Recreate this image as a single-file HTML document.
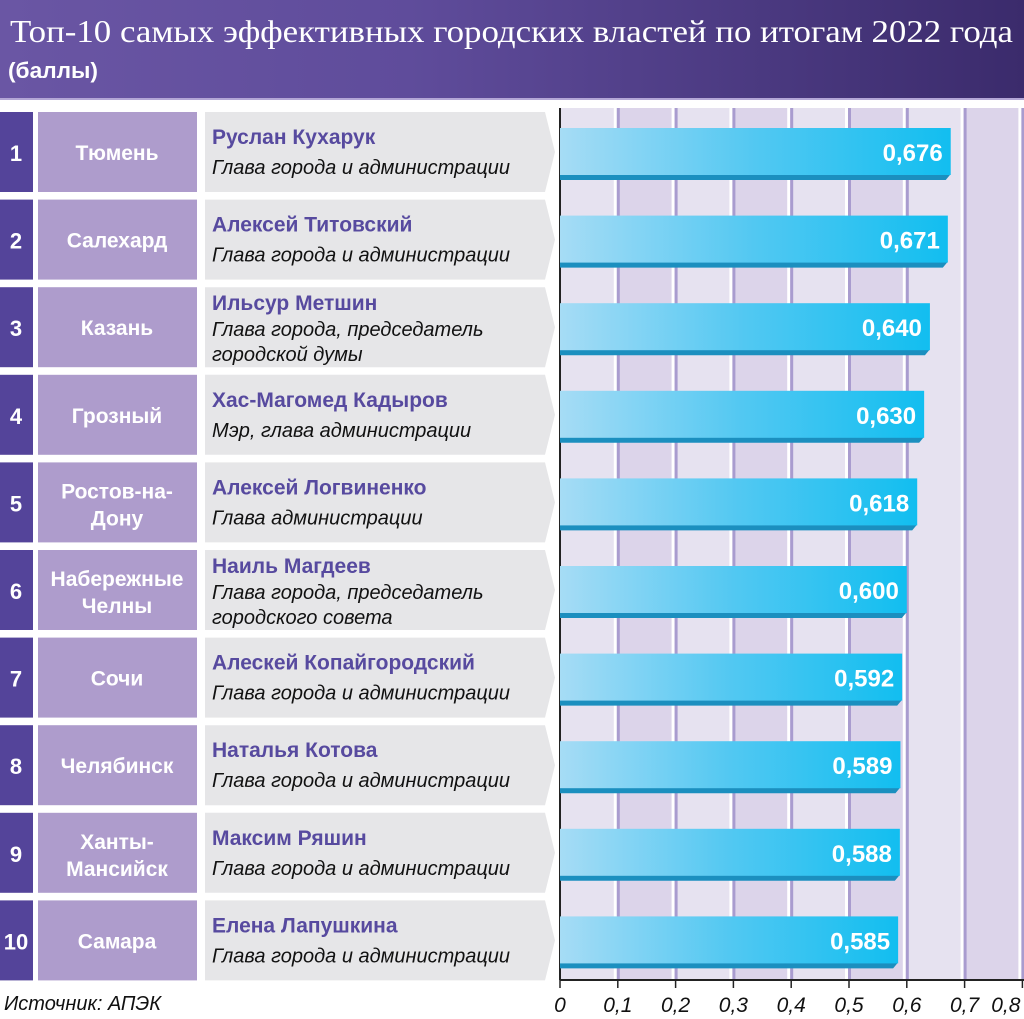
<!DOCTYPE html>
<html><head><meta charset="utf-8"><style>
html,body{margin:0;padding:0;background:#fff;}
svg{display:block;font-family:"Liberation Sans","DejaVu Sans",sans-serif;}
</style></head><body>
<svg id="c" width="1024" height="1019" viewBox="0 0 1024 1019" xmlns="http://www.w3.org/2000/svg">
<defs>
<linearGradient id="hdr" x1="0" x2="1" y1="0" y2="0"><stop offset="0" stop-color="#6a56a4"/><stop offset="0.4" stop-color="#5f4c9b"/><stop offset="1" stop-color="#3b2b6c"/></linearGradient>
<linearGradient id="bar" x1="0" x2="1" y1="0" y2="0"><stop offset="0" stop-color="#a6dcf5"/><stop offset="0.5" stop-color="#52c8f2"/><stop offset="1" stop-color="#12bef0"/></linearGradient>
</defs>
<rect x="0" y="0" width="1024" height="98" fill="url(#hdr)"/>
<rect x="0" y="98" width="1024" height="2" fill="#b3a6d6"/>
<text x="10" y="42" fill="#fff" font-family="Liberation Serif,serif" font-size="32" textLength="1003" lengthAdjust="spacingAndGlyphs">Топ-10 самых эффективных городских властей по итогам 2022 года</text>
<text x="8" y="78" fill="#fff" font-size="22" font-weight="bold" textLength="90" lengthAdjust="spacingAndGlyphs">(баллы)</text>
<g id="plot"></g>
<text x="4" y="1010" font-size="20" font-style="italic" fill="#111">Источник: АПЭК</text>
</svg>
<script>
const ranks=["1","2","3","4","5","6","7","8","9","10"];
const cities=[["Тюмень"],["Салехард"],["Казань"],["Грозный"],["Ростов-на-","Дону"],["Набережные","Челны"],["Сочи"],["Челябинск"],["Ханты-","Мансийск"],["Самара"]];
const names=["Руслан Кухарук","Алексей Титовский","Ильсур Метшин","Хас-Магомед Кадыров","Алексей Логвиненко","Наиль Магдеев","Алескей Копайгородский","Наталья Котова","Максим Ряшин","Елена Лапушкина"];
const roles=[["Глава города и администрации"],["Глава города и администрации"],["Глава города, председатель","городской думы"],["Мэр, глава администрации"],["Глава администрации"],["Глава города, председатель","городского совета"],["Глава города и администрации"],["Глава города и администрации"],["Глава города и администрации"],["Глава города и администрации"]];
const values=[0.676,0.671,0.640,0.630,0.618,0.600,0.592,0.589,0.588,0.585];
const ticks=[0,0.1,0.2,0.3,0.4,0.5,0.6,0.7,0.8];
const tickLabels=["0","0,1","0,2","0,3","0,4","0,5","0,6","0,7","0,8"];

const NS="http://www.w3.org/2000/svg";
const g=document.getElementById('plot');
const X0=560,XS=578,TOP=112,PITCH=87.6,AXY=980;
const xs=v=>X0+v*XS;
const ry=i=>TOP+i*PITCH;
function mk(t,a,p){const e=document.createElementNS(NS,t);for(const k in a)e.setAttribute(k,a[k]);(p||g).appendChild(e);return e;}

// bands
for(let i=0;i<ticks.length-1;i++){
  const b=mk('rect',{x:xs(ticks[i]),y:108,width:xs(ticks[i+1])-xs(ticks[i]),height:AXY-108,fill:i%2?'#dcd4ea':'#e6e2f0'});
  
  
}
mk('rect',{x:xs(0.8),y:108,width:1024-xs(0.8),height:AXY-108,fill:'#dcd4ea'});
for(let i=1;i<ticks.length;i++){
  const x=xs(ticks[i]);
  mk('rect',{x:x-4,y:108,width:3,height:AXY-108,fill:'#fff'});
  const l=mk('rect',{x:x-1,y:108,width:3,height:AXY-108,fill:'#a99ccf'});
  
  
}
// axis
const ax=mk('line',{x1:X0,y1:AXY,x2:1024,y2:AXY,stroke:'#222','stroke-width':2});


mk('line',{x1:X0,y1:108,x2:X0,y2:AXY,stroke:'#222','stroke-width':2});
ticks.forEach((t,i)=>{
  const x=xs(t);
  mk('line',{x1:x,y1:AXY,x2:x,y2:AXY+8,stroke:'#222','stroke-width':1.5});
  const tx=mk('text',{x:i==8?x-2:x,y:1012,'font-size':21,'font-style':'italic','text-anchor':i==8?'end':'middle',fill:'#111'});
  tx.textContent=tickLabels[i];
  
  
});

values.forEach((v,i)=>{
  const y=ry(i);
  const n=mk('rect',{x:0,y:y,width:33,height:80,fill:'#54449a'});
  
  
  const nt=mk('text',{x:16,y:y+49,'font-size':22,'font-weight':'bold',fill:'#fff','text-anchor':'middle'});
  nt.textContent=ranks[i];
  
  
  const c=mk('rect',{x:38,y:y,width:159,height:80,fill:'#ae9ccc'});
  
  
  const cl=cities[i];
  cl.forEach((s,j)=>{
    const ct=mk('text',{x:117,y:y+(cl.length==1?48:36+j*27),'font-size':21,'font-weight':'bold',fill:'#fff','text-anchor':'middle'});
    ct.textContent=s;
    
    
  });
  const p=mk('path',{d:`M205 ${y}H545L555 ${y+40}L545 ${y+80}H205Z`,fill:'#e6e6e8'});
  
  
  const multi=roles[i].length>1;
  const nm=mk('text',{x:212,y:y+(multi?23:32),'font-size':21,'font-weight':'bold',fill:'#574a9f'});
  nm.textContent=names[i];
  
  
  roles[i].forEach((s,j)=>{
    const r=mk('text',{x:212,y:y+(multi?49+j*25:62),'font-size':20,'font-style':'italic',fill:'#111'});
    r.textContent=s;
    
    
  });
  const bx=xs(v);
  mk('path',{d:`M${X0} ${y+62}H${bx}L${bx-5} ${y+68}H${X0}Z`,fill:'#1b8fbf'});
  const b=mk('rect',{x:X0,y:y+16,width:bx-X0,height:47,fill:'url(#bar)'});
  
  
  const vt=mk('text',{x:bx-8,y:y+49,'font-size':24,'font-weight':'bold',fill:'#fff','text-anchor':'end'});
  vt.textContent=v.toFixed(3).replace('.',',');
  
  
});
</script>
</body></html>
